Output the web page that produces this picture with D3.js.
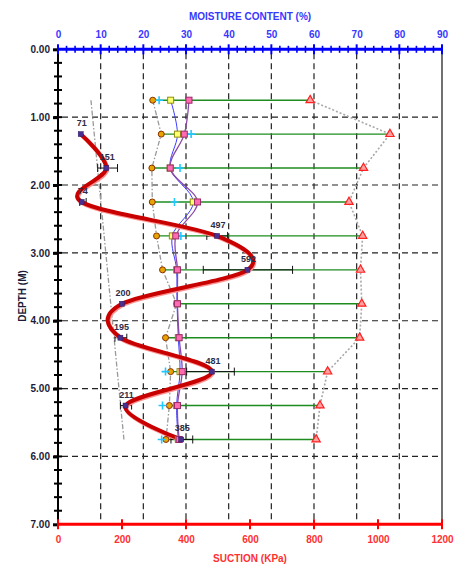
<!DOCTYPE html>
<html>
<head>
<meta charset="utf-8">
<script src="https://cdn.jsdelivr.net/npm/d3@7"></script>
<style>
  html, body { margin: 0; padding: 0; background: #fff; }
  svg { display: block; font-family: "Liberation Sans", Arial, sans-serif; }
</style>
</head>
<body>
<svg id="chart" width="459" height="565"></svg>
<script>
// ---------- DATA ----------
const depths          = [0.75, 1.25, 1.75, 2.25, 2.75, 3.25, 3.75, 4.25, 4.75, 5.25, 5.75];
const plasticLimit    = [22.2, 24.2, 22.0, 22.1, 23.1, 24.5, 27.8, 25.2, 26.4, 26.1, 25.3];
const moistureCyan    = [23.7, 31.2, 28.6, 27.3, 28.8, null, null, null, 25.2, 24.5, 24.3];
const moistureYellow  = [26.4, 28.0, 26.3, 31.7, 26.8, 27.8, 27.9, 28.2, 28.6, 27.8, 28.2];
const moisturePink    = [30.7, 29.6, 26.3, 32.7, 27.6, 28.0, 28.0, 28.4, 29.1, 28.0, 28.4];
const liquidLimit     = [59.1, 77.8, 71.6, 68.2, 71.4, 70.9, 71.2, 70.7, 63.2, 61.4, 60.5];

const suctionDepths   = [1.25, 1.75, 2.25, 2.75, 3.25, 3.75, 4.25, 4.75, 5.25, 5.75];
const suctionValues   = [71, 151, 74, 497, 592, 200, 195, 481, 211, 385];
const suctionLow      = [null, 124, 68, 465, 454, null, 178, 402, 195, 353];
const suctionHigh     = [null, 186, 88, 530, 733, null, 215, 551, 230, 421];

const trendDepths     = [0.75, 5.75];
const trendSuction    = [103, 206];

const moistureTicks   = [0, 10, 20, 30, 40, 50, 60, 70, 80, 90];
const suctionTicks    = [0, 200, 400, 600, 800, 1000, 1200];
const depthTicks      = [0, 1, 2, 3, 4, 5, 6, 7];

// ---------- SCALES ----------
const L = 58, R = 442, T = 49.3, B = 524.3;
const xM = d3.scaleLinear().domain([0, 90]).range([L, R]);
const xS = d3.scaleLinear().domain([0, 1200]).range([L, R]);
const y  = d3.scaleLinear().domain([0, 7]).range([T, B]);

const svg = d3.select("#chart");

// ---------- GRID ----------
const grid = svg.append("g").attr("stroke", "#222").attr("stroke-width", 1.2)
  .attr("stroke-dasharray", "6,4").attr("fill", "none");
moistureTicks.slice(1, -1).forEach(v => {
  grid.append("line").attr("x1", xM(v)).attr("x2", xM(v)).attr("y1", T + 4).attr("y2", B);
});
depthTicks.slice(1, -1).forEach(d => {
  grid.append("line").attr("x1", L + 4).attr("x2", R).attr("y1", y(d)).attr("y2", y(d));
});
// right border
svg.append("line").attr("x1", R).attr("x2", R).attr("y1", T).attr("y2", B)
  .attr("stroke", "#111").attr("stroke-width", 1.2);

// ---------- MOISTURE SERIES ----------
const rows = depths.map((d, i) => ({
  d, pl: plasticLimit[i], cy: moistureCyan[i], ye: moistureYellow[i], pk: moisturePink[i], ll: liquidLimit[i]
}));

// green range lines PL -> LL
svg.append("g").selectAll("line").data(rows).join("line")
  .attr("x1", r => xM(Math.min(r.pl, r.pk)))
  .attr("x2", r => xM(r.ll))
  .attr("y1", r => y(r.d)).attr("y2", r => y(r.d))
  .attr("stroke", "#1e8c1e").attr("stroke-width", 1.4);

// grey dotted LL line
svg.append("path").datum(rows)
  .attr("d", d3.line().x(r => xM(r.ll)).y(r => y(r.d)))
  .attr("fill", "none").attr("stroke", "#a8a8a8").attr("stroke-width", 1.6)
  .attr("stroke-dasharray", "2,2");

// grey dash-dot PL line
svg.append("path").datum(rows)
  .attr("d", d3.line().x(r => xM(r.pl)).y(r => y(r.d)))
  .attr("fill", "none").attr("stroke", "#9a9a9a").attr("stroke-width", 1.3)
  .attr("stroke-dasharray", "5,2,1.5,2");

// grey dash-dot trend line (suction axis)
svg.append("path").datum(trendDepths.map((d, i) => ({ d, s: trendSuction[i] })))
  .attr("d", d3.line().x(p => xS(p.s)).y(p => y(p.d)))
  .attr("fill", "none").attr("stroke", "#9a9a9a").attr("stroke-width", 1.3)
  .attr("stroke-dasharray", "5,2,1.5,2");

// blue (yellow squares) and purple (pink squares) lines
svg.append("path").datum(rows)
  .attr("d", d3.line().curve(d3.curveCatmullRom).x(r => xM(r.ye)).y(r => y(r.d)))
  .attr("fill", "none").attr("stroke", "#3a3aff").attr("stroke-width", 1);
svg.append("path").datum(rows)
  .attr("d", d3.line().curve(d3.curveCatmullRom).x(r => xM(r.pk)).y(r => y(r.d)))
  .attr("fill", "none").attr("stroke", "#8a4aa8").attr("stroke-width", 1.3);

// ---------- SUCTION ----------
const suc = suctionDepths.map((d, i) => ({
  d, s: suctionValues[i], lo: suctionLow[i], hi: suctionHigh[i]
}));

// error bars
const eb = svg.append("g").attr("stroke", "#111").attr("stroke-width", 1);
suc.filter(p => p.lo != null).forEach(p => {
  eb.append("line").attr("x1", xS(p.lo)).attr("x2", xS(p.hi)).attr("y1", y(p.d)).attr("y2", y(p.d));
  eb.append("line").attr("x1", xS(p.lo)).attr("x2", xS(p.lo)).attr("y1", y(p.d) - 4).attr("y2", y(p.d) + 4);
  eb.append("line").attr("x1", xS(p.hi)).attr("x2", xS(p.hi)).attr("y1", y(p.d) - 4).attr("y2", y(p.d) + 4);
});

// red smooth suction curve
const sucLine = d3.line().curve(d3.curveCardinal.tension(0)).x(p => xS(p.s)).y(p => y(p.d));
svg.append("path").datum(suc).attr("d", sucLine)
  .attr("fill", "none").attr("stroke", "#ff9090").attr("stroke-width", 4.5)
  .attr("transform", "translate(0.8,1)");
svg.append("path").datum(suc).attr("d", sucLine)
  .attr("fill", "none").attr("stroke", "#c80000").attr("stroke-width", 4)
  .attr("stroke-linejoin", "round");

// ---------- MARKERS ----------
// orange circles (PL)
svg.append("g").selectAll("circle").data(rows).join("circle")
  .attr("cx", r => xM(r.pl)).attr("cy", r => y(r.d)).attr("r", 3)
  .attr("fill", "#e8a400").attr("stroke", "#8a3000").attr("stroke-width", 1);

// cyan pluses
svg.append("g").selectAll("path").data(rows.filter(r => r.cy != null)).join("path")
  .attr("d", r => `M${xM(r.cy) - 4},${y(r.d)}h8M${xM(r.cy)},${y(r.d) - 4}v8`)
  .attr("stroke", "#22c8ff").attr("stroke-width", 1.6).attr("fill", "none");

// yellow squares
svg.append("g").selectAll("rect").data(rows).join("rect")
  .attr("x", r => xM(r.ye) - 3).attr("y", r => y(r.d) - 3)
  .attr("width", 6).attr("height", 6)
  .attr("fill", "#ffff70").attr("stroke", "#8f8f10").attr("stroke-width", 1);

// pink squares
svg.append("g").selectAll("rect").data(rows).join("rect")
  .attr("x", r => xM(r.pk) - 3).attr("y", r => y(r.d) - 3)
  .attr("width", 6).attr("height", 6)
  .attr("fill", "#ff6ab0").attr("stroke", "#9a2a6a").attr("stroke-width", 1);

// red triangles (LL)
svg.append("g").selectAll("path").data(rows).join("path")
  .attr("d", d3.symbol().type(d3.symbolTriangle).size(30))
  .attr("transform", r => `translate(${xM(r.ll)},${y(r.d)})`)
  .attr("fill", "#ffa0a0").attr("stroke", "#ff2020").attr("stroke-width", 1.2);

// suction markers and labels
svg.append("g").selectAll("rect").data(suc).join("rect")
  .attr("x", p => xS(p.s) - 2.5).attr("y", p => y(p.d) - 2.5)
  .attr("width", 5).attr("height", 5)
  .attr("fill", "#4a2f90").attr("stroke", "#2a1a60").attr("stroke-width", 0.5);
svg.append("g").selectAll("text").data(suc).join("text")
  .attr("x", p => xS(p.s) + 1).attr("y", p => y(p.d) - 8)
  .attr("text-anchor", "middle")
  .attr("font-size", 9).attr("font-weight", "bold").attr("fill", "#2c2c48")
  .text(p => p.s);

// ---------- AXES ----------
// left depth axis
svg.append("line").attr("x1", L).attr("x2", L).attr("y1", T).attr("y2", B)
  .attr("stroke", "#000").attr("stroke-width", 2);
const depthMinor = d3.range(0, 35).map(i => i * 0.2).filter(d => d > 0.001 && d < 6.999);
svg.append("g").selectAll("line").data(depthMinor).join("line")
  .attr("x1", L - 4).attr("x2", L + 4).attr("y1", d => y(d)).attr("y2", d => y(d))
  .attr("stroke", "#000").attr("stroke-width", 2);
const leftAxis = svg.append("g").attr("transform", `translate(${L},0)`)
  .call(d3.axisLeft(y).tickValues(depthTicks).tickFormat(d3.format(".2f")).tickSize(5).tickPadding(3));
leftAxis.select(".domain").remove();
leftAxis.selectAll(".tick line").attr("stroke", "#000").attr("stroke-width", 3);
leftAxis.selectAll("text").attr("font-size", 10).attr("font-weight", "bold").attr("fill", "#1c1c38")
  .attr("font-family", "Liberation Sans, Arial, sans-serif");

// top moisture axis
svg.append("line").attr("x1", L).attr("x2", R).attr("y1", T).attr("y2", T)
  .attr("stroke", "#0000ff").attr("stroke-width", 3);
const moistMinor = d3.range(0, 46).map(i => i * 2);
svg.append("g").selectAll("line").data(moistMinor).join("line")
  .attr("x1", v => xM(v)).attr("x2", v => xM(v))
  .attr("y1", v => T - (v % 10 === 0 ? 5 : 3.5)).attr("y2", v => T + (v % 10 === 0 ? 5 : 3.5))
  .attr("stroke", "#0000ff").attr("stroke-width", v => v % 10 === 0 ? 2 : 1.6);
const topAxis = svg.append("g").attr("transform", `translate(0,${T})`)
  .call(d3.axisTop(xM).tickValues(moistureTicks).tickFormat(d3.format("d")).tickSize(0).tickPadding(11));
topAxis.select(".domain").remove();
topAxis.selectAll("text").attr("font-size", 10).attr("font-weight", "bold").attr("fill", "#3838ff")
  .attr("font-family", "Liberation Sans, Arial, sans-serif");

// bottom suction axis
svg.append("line").attr("x1", L).attr("x2", R).attr("y1", B).attr("y2", B)
  .attr("stroke", "#ff0000").attr("stroke-width", 3);
const botAxis = svg.append("g").attr("transform", `translate(0,${B})`)
  .call(d3.axisBottom(xS).tickValues(suctionTicks).tickFormat(d3.format("d")).tickSize(0).tickPadding(12));
botAxis.select(".domain").remove();
botAxis.selectAll("text").attr("font-size", 10).attr("font-weight", "bold").attr("fill", "#ff3030")
  .attr("font-family", "Liberation Sans, Arial, sans-serif");
svg.append("g").selectAll("line").data(suctionTicks).join("line")
  .attr("x1", v => xS(v)).attr("x2", v => xS(v)).attr("y1", B - 5).attr("y2", B + 5)
  .attr("stroke", "#ff0000").attr("stroke-width", 2);

// titles
svg.append("text").attr("x", (L + R) / 2).attr("y", 20).attr("text-anchor", "middle")
  .attr("font-size", 10).attr("font-weight", "bold").attr("fill", "#3838ff")
  .text("MOISTURE CONTENT (%)");
svg.append("text").attr("x", (L + R) / 2).attr("y", 562).attr("text-anchor", "middle")
  .attr("font-size", 10).attr("font-weight", "bold").attr("fill", "#ff3030")
  .text("SUCTION (KPa)");
svg.append("text").attr("transform", "translate(26,296) rotate(-90)").attr("text-anchor", "middle")
  .attr("font-size", 10).attr("font-weight", "bold").attr("fill", "#1c1c38")
  .text("DEPTH (M)");
</script>
</body>
</html>
